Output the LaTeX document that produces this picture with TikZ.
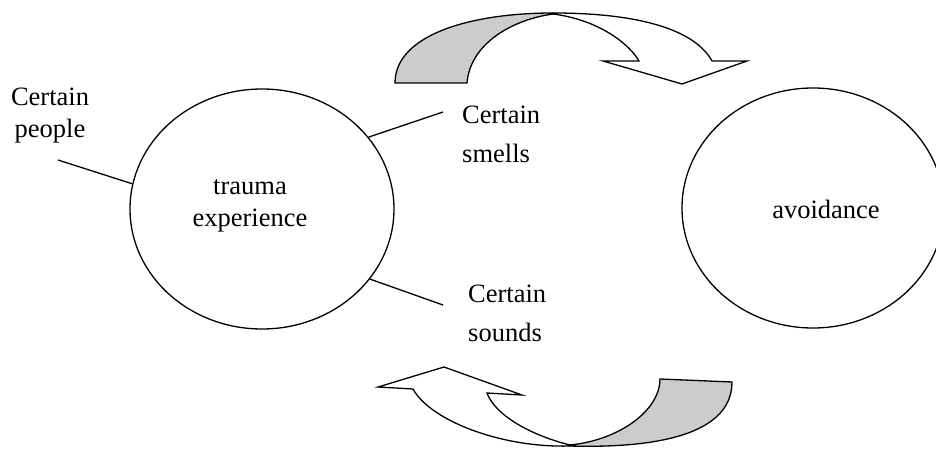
\documentclass[tikz,border=0pt]{standalone}
\usepackage{fontspec}
\setmainfont{Liberation Serif}
\usetikzlibrary{shapes.geometric}
\begin{document}
\begin{tikzpicture}[x=1pt,y=-1pt,
  outline/.style={draw=black, line width=1.3pt, line join=miter},
  bubble/.style={ellipse, draw=black, line width=1.3pt, inner sep=0pt},
  label/.style={inner sep=0pt, font=\fontsize{26.5}{32}\selectfont},
  widelabel/.style={inner sep=0pt, align=left, font=\fontsize{26.5}{38.5}\selectfont},
  link/.style={draw=black, line width=1.3pt},
  underside/.style={outline, fill=black!20},
  topside/.style={outline, fill=white}]
\useasboundingbox (0,0) rectangle (936,449);

% the two main ellipses
\node[bubble, minimum width=264pt, minimum height=240pt] (trauma) at (262,209) {};
\node[bubble, minimum width=262pt, minimum height=240pt] (avoid) at (813,208) {};

% their labels
\node[label, align=center, anchor=north] (traumatext) at (250,179.5) {trauma\\experience};
\node[label, anchor=base] (avoidtext) at (826,218) {avoidance};

% the triggers around the trauma experience
\node[label, align=center, anchor=north] (people) at (50,88) {Certain\\people};
\node[widelabel, anchor=north west] (smells) at (462,106) {Certain\\smells};
\node[widelabel, anchor=north west] (sounds) at (468,285) {Certain\\sounds};

\coordinate (peopleend) at (58,160);
\coordinate (smellsend) at (443,112);
\coordinate (soundsend) at (443,305);
\draw[link] (trauma.169.7) -- (peopleend);
\draw[link] (trauma.34) -- (smellsend);
\draw[link] (trauma.-33.3) -- (soundsend);

% curved ribbon arrow over the top, pointing right
\draw[underside] (395,83) -- (467,83) .. controls (470,45) and (510,20) .. (553,14)
  -- (553,13) .. controls (470,13) and (395,35) .. (395,83) -- cycle;
\draw[topside] (553,13) .. controls (640,13) and (695,30) .. (712,61)
  -- (747,61) -- (682,84) -- (603,61) -- (639,61)
  .. controls (630,45) and (600,20) .. (553,14) -- cycle;

% curved ribbon arrow underneath, pointing left
\draw[underside] (660,379) -- (732,382) .. controls (732,440) and (640,448) .. (570,446)
  -- (570,445) .. controls (620,440) and (660,410) .. (660,379) -- cycle;
\draw[topside] (570,446) .. controls (500,448) and (430,420) .. (413,389)
  -- (378,387) -- (444,367) -- (522,395) -- (487,393)
  .. controls (495,415) and (530,435) .. (570,445) -- cycle;
\end{tikzpicture}
\end{document}
